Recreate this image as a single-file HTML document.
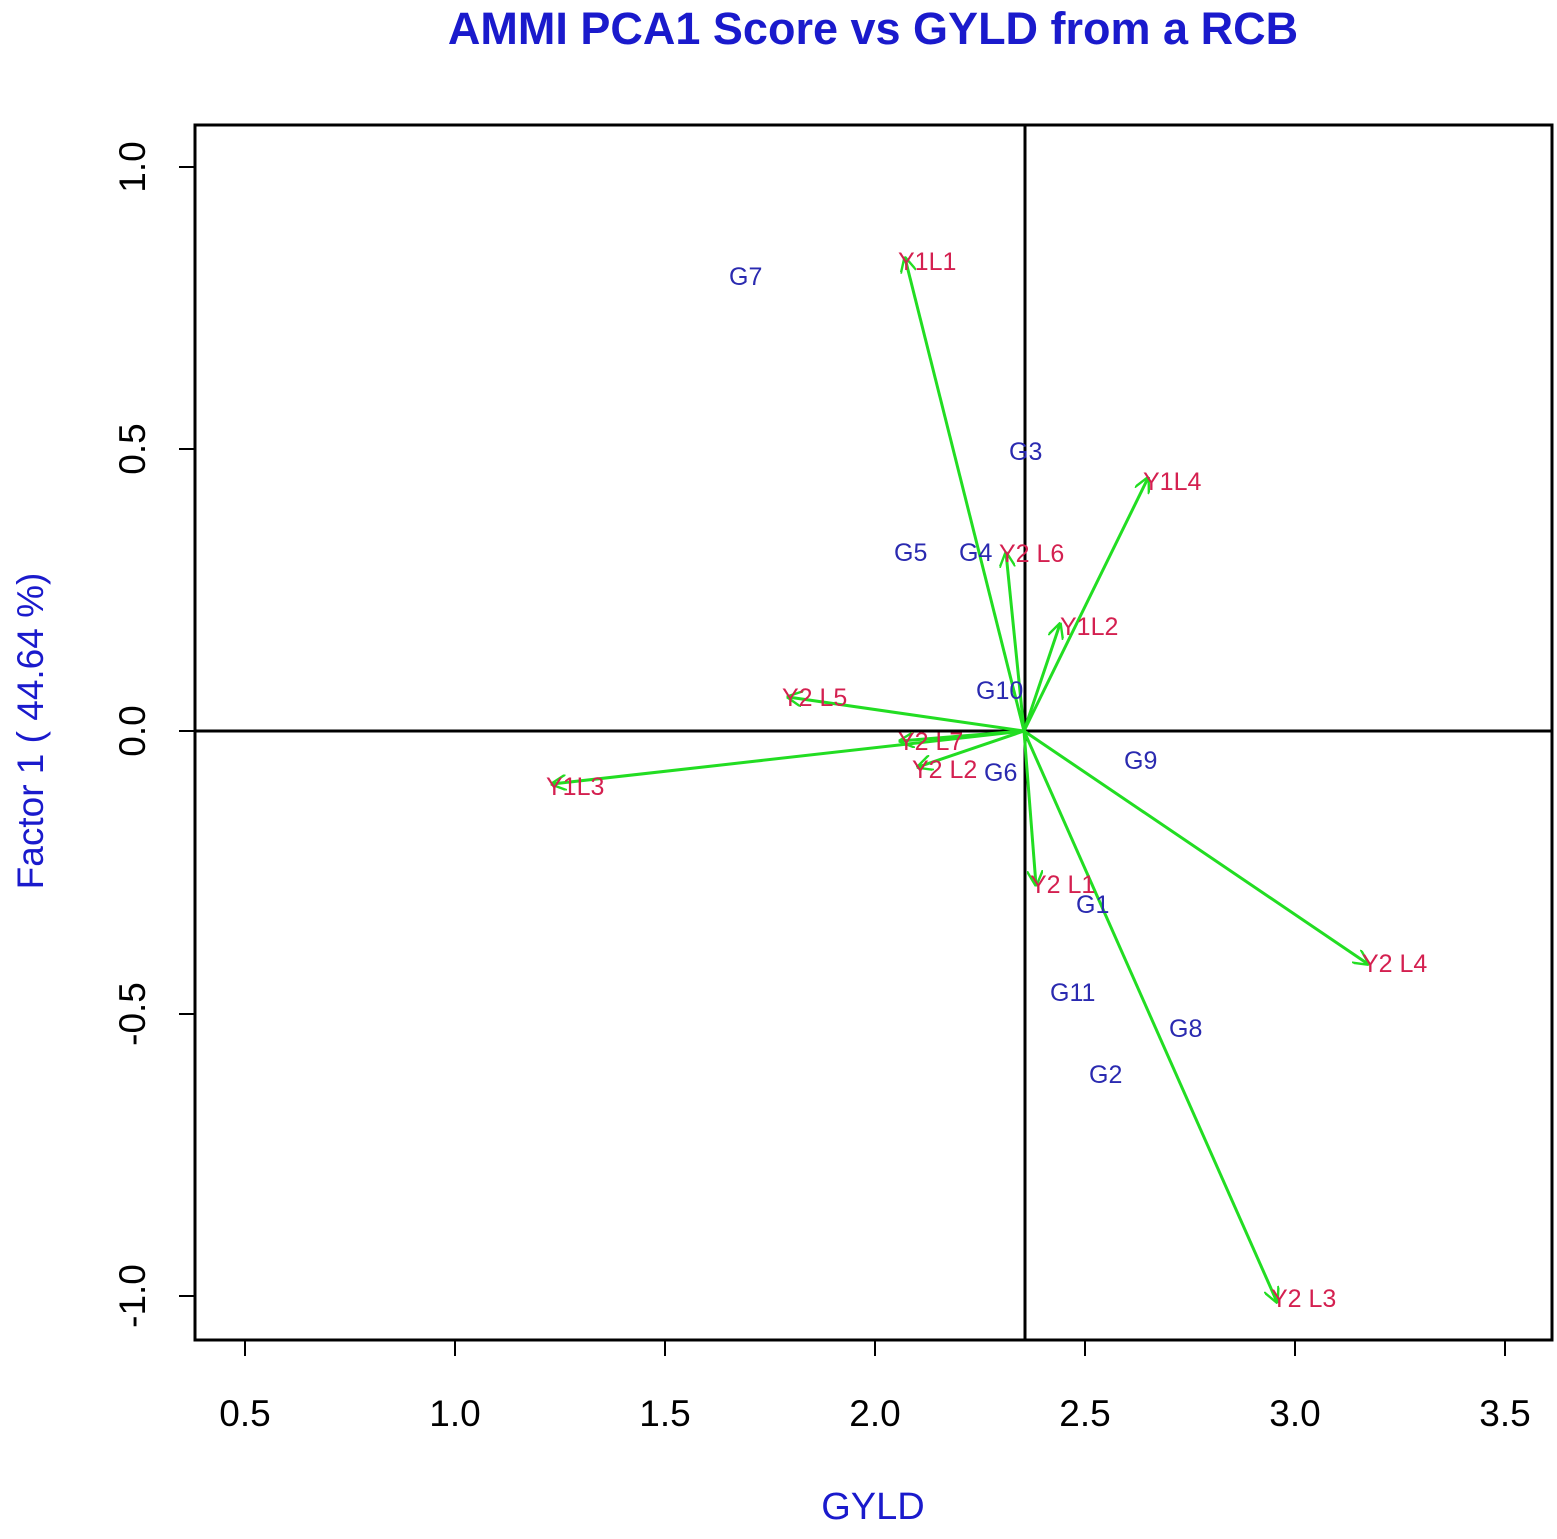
<!DOCTYPE html>
<html><head><style>body{margin:0;background:#fff}</style></head><body>
<svg width="1557" height="1534" xmlns="http://www.w3.org/2000/svg" font-family="Liberation Sans, sans-serif">
<text x="873" y="44" font-size="45" font-weight="bold" fill="#1a1acc" text-anchor="middle">AMMI PCA1 Score vs GYLD from a RCB</text>
<rect x="195" y="125" width="1357" height="1215" fill="none" stroke="#000" stroke-width="3"/>
<line x1="1025" y1="125" x2="1025" y2="1340" stroke="#000" stroke-width="3"/>
<line x1="195" y1="731" x2="1552" y2="731" stroke="#000" stroke-width="3"/>
<g stroke="#000" stroke-width="2">
<line x1="245" y1="1340" x2="245" y2="1356"/><line x1="455" y1="1340" x2="455" y2="1356"/><line x1="665" y1="1340" x2="665" y2="1356"/><line x1="875" y1="1340" x2="875" y2="1356"/><line x1="1085" y1="1340" x2="1085" y2="1356"/><line x1="1295" y1="1340" x2="1295" y2="1356"/><line x1="1505" y1="1340" x2="1505" y2="1356"/>
<line x1="179" y1="167" x2="195" y2="167"/><line x1="179" y1="449" x2="195" y2="449"/><line x1="179" y1="731" x2="195" y2="731"/><line x1="179" y1="1014" x2="195" y2="1014"/><line x1="179" y1="1296" x2="195" y2="1296"/>
</g>
<g font-size="37" fill="#000" text-anchor="middle">
<text x="245" y="1426">0.5</text><text x="455" y="1426">1.0</text><text x="665" y="1426">1.5</text><text x="875" y="1426">2.0</text><text x="1085" y="1426">2.5</text><text x="1295" y="1426">3.0</text><text x="1505" y="1426">3.5</text>
<text transform="translate(145,167) rotate(-90)">1.0</text><text transform="translate(145,449) rotate(-90)">0.5</text><text transform="translate(145,731) rotate(-90)">0.0</text><text transform="translate(145,1014) rotate(-90)">-0.5</text><text transform="translate(145,1296) rotate(-90)">-1.0</text>
</g>
<text x="873" y="1519" font-size="38" fill="#1a1acc" text-anchor="middle">GYLD</text>
<text transform="translate(43,731) rotate(-90)" font-size="37" fill="#1a1acc" text-anchor="middle">Factor 1 ( 44.64 %)</text>
<defs><marker id="a" viewBox="0 0 10 10" refX="9" refY="5" markerWidth="16" markerHeight="16" markerUnits="userSpaceOnUse" orient="auto"><path d="M0,0 L10,5 L0,10" fill="none" stroke="#22dd22" stroke-width="1.5"/></marker></defs>
<g stroke="#22dd22" stroke-width="3" marker-end="url(#a)">
<line x1="1024" y1="731" x2="905" y2="258"/>
<line x1="1024" y1="731" x2="1148" y2="478"/>
<line x1="1024" y1="731" x2="1006" y2="553"/>
<line x1="1024" y1="731" x2="1060" y2="624"/>
<line x1="1024" y1="731" x2="788" y2="697"/>
<line x1="1024" y1="731" x2="900" y2="741"/>
<line x1="1024" y1="731" x2="552" y2="784"/>
<line x1="1024" y1="731" x2="918" y2="767"/>
<line x1="1024" y1="731" x2="1036" y2="885"/>
<line x1="1024" y1="731" x2="1368" y2="964"/>
<line x1="1024" y1="731" x2="1277" y2="1302"/>
</g>
<g font-size="25" fill="#d42050">
<text x="898" y="270">Y1L1</text><text x="1143" y="490">Y1L4</text><text x="999" y="562">Y2 L6</text><text x="1060" y="635">Y1L2</text><text x="782" y="706">Y2 L5</text><text x="898" y="750">Y2 L7</text><text x="546" y="795">Y1L3</text><text x="912" y="778">Y2 L2</text><text x="1030" y="893">Y2 L1</text><text x="1362" y="972">Y2 L4</text><text x="1271" y="1307">Y2 L3</text>
</g>
<g font-size="25" fill="#2a2ab0">
<text x="729" y="285">G7</text><text x="1009" y="460">G3</text><text x="894" y="561">G5</text><text x="959" y="561">G4</text><text x="976" y="699">G10</text><text x="1124" y="769">G9</text><text x="984" y="781">G6</text><text x="1076" y="913">G1</text><text x="1050" y="1001">G11</text><text x="1169" y="1037">G8</text><text x="1089" y="1083">G2</text>
</g>
</svg>
</body></html>
